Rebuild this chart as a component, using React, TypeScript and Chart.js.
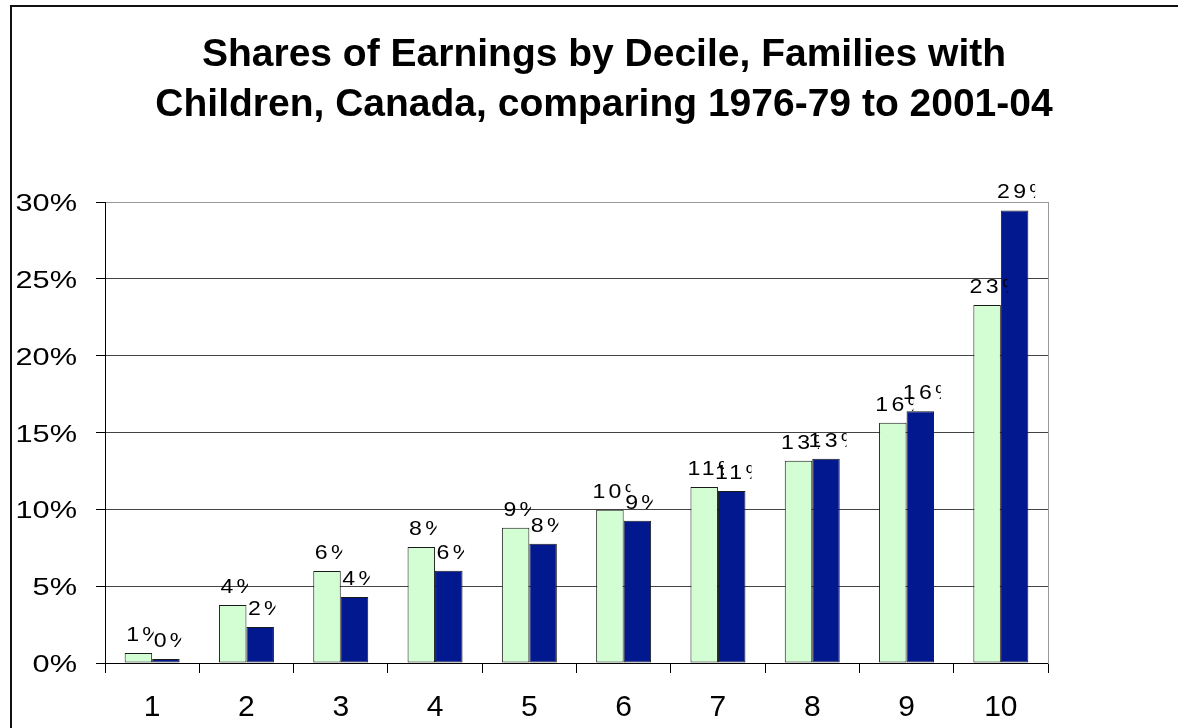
import { useEffect, useRef } from 'react';
import { Chart, registerables } from 'chart.js';

Chart.register(...registerables);

const categories = ['1', '2', '3', '4', '5', '6', '7', '8', '9', '10'];
const share1976to79 = [0.65, 3.78, 5.98, 7.55, 8.8, 9.98, 11.46, 13.16, 15.63, 23.29];
const share2001to04 = [0.26, 2.35, 4.3, 6.0, 7.76, 9.26, 11.2, 13.29, 16.39, 29.45];
const seriesNames = ['1976-79', '2001-04'];
const titleLines = [
  'Shares of Earnings by Decile, Families with',
  'Children, Canada, comparing 1976-79 to 2001-04',
];
const yMin = 0;
const yMax = 30;
const yStep = 5;

const FONT = '"Liberation Sans", Arial, Helvetica, sans-serif';
const fmtPct = (v: number) => `${Math.round(v)}%`;

const clippedLabelPlugin = {
  id: 'clippedLabels',
  afterDatasetsDraw(chart: any) {
    const ctx = chart.ctx as CanvasRenderingContext2D;
    chart.data.datasets.forEach((ds: any, i: number) => {
      const meta = chart.getDatasetMeta(i);
      meta.data.forEach((bar: any, j: number) => {
        const text = fmtPct(ds.data[j]);
        ctx.save();
        ctx.font = `19px ${FONT}`;
        const w = ctx.measureText(text).width;
        const left = bar.x - w / 2 + 1.5;
        ctx.beginPath();
        ctx.rect(left, bar.y - 45, w, 45);
        ctx.clip();
        ctx.translate(left, bar.y - 12);
        ctx.scale(1.1, 1);
        ctx.font = `21px ${FONT}`;
        (ctx as any).letterSpacing = '3px';
        ctx.fillStyle = '#000';
        ctx.textAlign = 'left';
        ctx.textBaseline = 'alphabetic';
        ctx.fillText(text, 0, 0);
        ctx.restore();
      });
    });
  },
};

const yLabelPlugin = {
  id: 'yLabels',
  afterDraw(chart: any) {
    const ctx = chart.ctx as CanvasRenderingContext2D;
    const s = chart.scales.y;
    s.ticks.forEach((t: any) => {
      const y = s.getPixelForValue(t.value);
      ctx.save();
      ctx.translate(77, y + 9);
      ctx.scale(1.28, 1);
      ctx.font = `24px ${FONT}`;
      ctx.fillStyle = '#000';
      ctx.textAlign = 'right';
      ctx.textBaseline = 'alphabetic';
      ctx.fillText(`${t.value}%`, 0, 0);
      ctx.restore();
    });
  },
};

export default function App() {
  const ref = useRef<HTMLCanvasElement | null>(null);

  useEffect(() => {
    if (!ref.current) return;
    const chart = new Chart(ref.current, {
      type: 'bar',
      data: {
        labels: categories,
        datasets: [
          {
            label: seriesNames[0],
            data: share1976to79,
            backgroundColor: '#D3FDD3',
            borderColor: '#1a1a1a',
            borderWidth: 1,
            borderSkipped: false,
            yAxisID: 'y',
          },
          {
            label: seriesNames[1],
            data: share2001to04,
            backgroundColor: '#02188F',
            borderColor: '#1a1a1a',
            borderWidth: 1,
            borderSkipped: false,
            yAxisID: 'y',
          },
        ],
      },
      options: {
        responsive: false,
        animation: false,
        events: [],
        layout: { padding: { left: 30, right: 0, top: 0, bottom: 0 } },
        datasets: {
          bar: { categoryPercentage: 0.583, barPercentage: 1 },
        },
        plugins: {
          legend: { display: false },
          tooltip: { enabled: false },
          title: {
            display: true,
            text: titleLines,
            color: '#000',
            font: { family: FONT, size: 39, weight: 'bold', lineHeight: 50 / 39 },
            padding: { top: 30, bottom: 72 },
          },
        },
        scales: {
          x: {
            grid: {
              display: true,
              drawOnChartArea: false,
              drawTicks: true,
              tickLength: 10,
              color: '#000',
              offset: true,
            },
            border: { display: true, color: '#000', width: 1 },
            ticks: {
              color: '#000',
              font: { family: FONT, size: 30 },
              padding: 17,
              maxRotation: 0,
            },
            afterFit: (s: any) => {
              s.height = 65;
            },
          },
          y: {
            min: yMin,
            max: yMax,
            position: 'left',
            ticks: { display: false, stepSize: yStep },
            grid: {
              color: (c: any) => (c.tick && c.tick.value === yMax ? '#999' : '#444'),
              tickColor: '#000',
              tickLength: 9,
              drawTicks: true,
            },
            border: { display: true, color: '#000', width: 1 },
            afterFit: (s: any) => {
              s.width = 75;
            },
          },
          y2: {
            min: yMin,
            max: yMax,
            position: 'right',
            ticks: { display: false },
            grid: { drawOnChartArea: false, drawTicks: false },
            border: { display: true, color: '#999', width: 1 },
            afterFit: (s: any) => {
              s.width = 130;
            },
          },
        },
      } as any,
      plugins: [clippedLabelPlugin, yLabelPlugin],
    });
    return () => chart.destroy();
  }, []);

  return (
    <div
      style={{
        position: 'fixed',
        left: 0,
        top: 0,
        width: 1178,
        height: 728,
        overflow: 'hidden',
        background: '#fff',
      }}
    >
      <canvas
        ref={ref}
        width={1178}
        height={728}
        style={{ position: 'absolute', left: 0, top: 0, width: 1178, height: 728 }}
      />
      <div
        style={{
          position: 'absolute',
          left: 10,
          top: 5,
          width: 2000,
          height: 2000,
          borderLeft: '2px solid #111',
          borderTop: '2px solid #111',
          pointerEvents: 'none',
        }}
      />
    </div>
  );
}
